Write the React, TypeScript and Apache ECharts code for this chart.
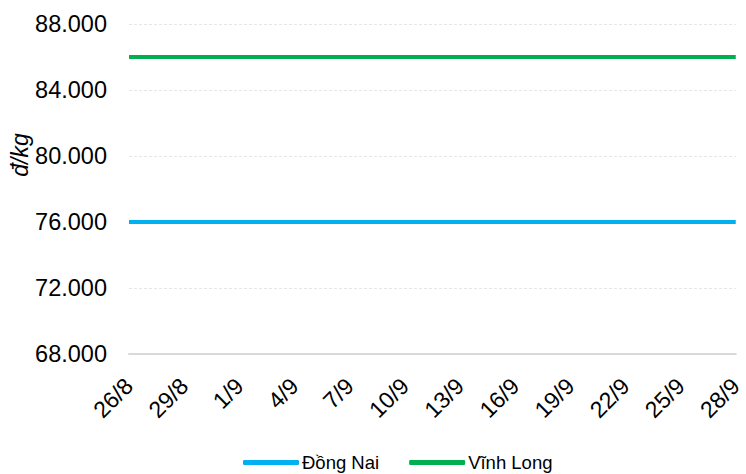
import React, { useEffect, useRef } from "react";
import * as echarts from "echarts";

const categories = [
  "26/8", "27/8", "28/8", "29/8", "30/8", "31/8",
  "1/9", "2/9", "3/9", "4/9", "5/9", "6/9", "7/9", "8/9", "9/9", "10/9",
  "11/9", "12/9", "13/9", "14/9", "15/9", "16/9", "17/9", "18/9", "19/9", "20/9",
  "21/9", "22/9", "23/9", "24/9", "25/9", "26/9", "27/9", "28/9",
];
const dongNai = [
  76000, 76000, 76000, 76000, 76000, 76000, 76000, 76000, 76000, 76000,
  76000, 76000, 76000, 76000, 76000, 76000, 76000, 76000, 76000, 76000,
  76000, 76000, 76000, 76000, 76000, 76000, 76000, 76000, 76000, 76000,
  76000, 76000, 76000, 76000,
];
const vinhLong = [
  86000, 86000, 86000, 86000, 86000, 86000, 86000, 86000, 86000, 86000,
  86000, 86000, 86000, 86000, 86000, 86000, 86000, 86000, 86000, 86000,
  86000, 86000, 86000, 86000, 86000, 86000, 86000, 86000, 86000, 86000,
  86000, 86000, 86000, 86000,
];
const seriesNames = ["Đồng Nai", "Vĩnh Long"];
const unitLabel = "đ/kg";

const fmt = (v: number) => {
  const s = Math.round(v).toString();
  return s.replace(/\B(?=(\d{3})+(?!\d))/g, ".");
};

const FONT = "Liberation Sans, Arial, sans-serif";

export default function App() {
  const ref = useRef<HTMLDivElement>(null);
  useEffect(() => {
    if (!ref.current) return;
    const chart = echarts.init(ref.current, null, { renderer: "svg" });
    chart.setOption({
      animation: false,
      textStyle: { fontFamily: FONT },
      grid: { left: 129, right: 3, top: 24, bottom: 120, containLabel: false },
      legend: {
        top: 453,
        left: 243,
        padding: 0,
        itemWidth: 56,
        itemHeight: 5,
        itemGap: 30,
        icon: "roundRect",
        textStyle: { fontSize: 18.5, color: "#000", padding: [0, 0, 0, -2], fontFamily: FONT },
        data: seriesNames,
      },
      graphic: [
        {
          type: "text",
          x: 20,
          y: 155,
          rotation: Math.PI / 2,
          style: {
            text: unitLabel,
            fontSize: 23,
            fontStyle: "italic",
            fontFamily: FONT,
            fill: "#000",
            align: "center",
            verticalAlign: "middle",
          },
        },
      ],
      xAxis: {
        type: "category",
        data: categories,
        boundaryGap: false,
        axisLine: { show: true, lineStyle: { color: "#d9d9d9", width: 2 } },
        axisTick: { show: false },
        axisLabel: {
          interval: 2,
          rotate: 45,
          fontSize: 23,
          color: "#000",
          margin: 28,
          fontFamily: FONT,
        },
      },
      yAxis: {
        type: "value",
        min: 68000,
        max: 88000,
        interval: 4000,
        axisLine: { show: false },
        axisTick: { show: false },
        splitLine: { lineStyle: { color: "#e6e6e6", width: 1, type: [3, 2] } },
        axisLabel: {
          fontSize: 23.5,
          color: "#000",
          margin: 22,
          fontFamily: FONT,
          formatter: (v: number) => fmt(v),
        },
      },
      series: [
        {
          name: seriesNames[0],
          type: "line",
          data: dongNai,
          symbol: "none",
          lineStyle: { color: "#00B0F0", width: 4 },
          itemStyle: { color: "#00B0F0" },
        },
        {
          name: seriesNames[1],
          type: "line",
          data: vinhLong,
          symbol: "none",
          lineStyle: { color: "#00B050", width: 4 },
          itemStyle: { color: "#00B050" },
        },
      ],
    });
    return () => chart.dispose();
  }, []);
  return (
    <div
      ref={ref}
      style={{ position: "absolute", left: 0, top: 0, width: 746, height: 474 }}
    />
  );
}
